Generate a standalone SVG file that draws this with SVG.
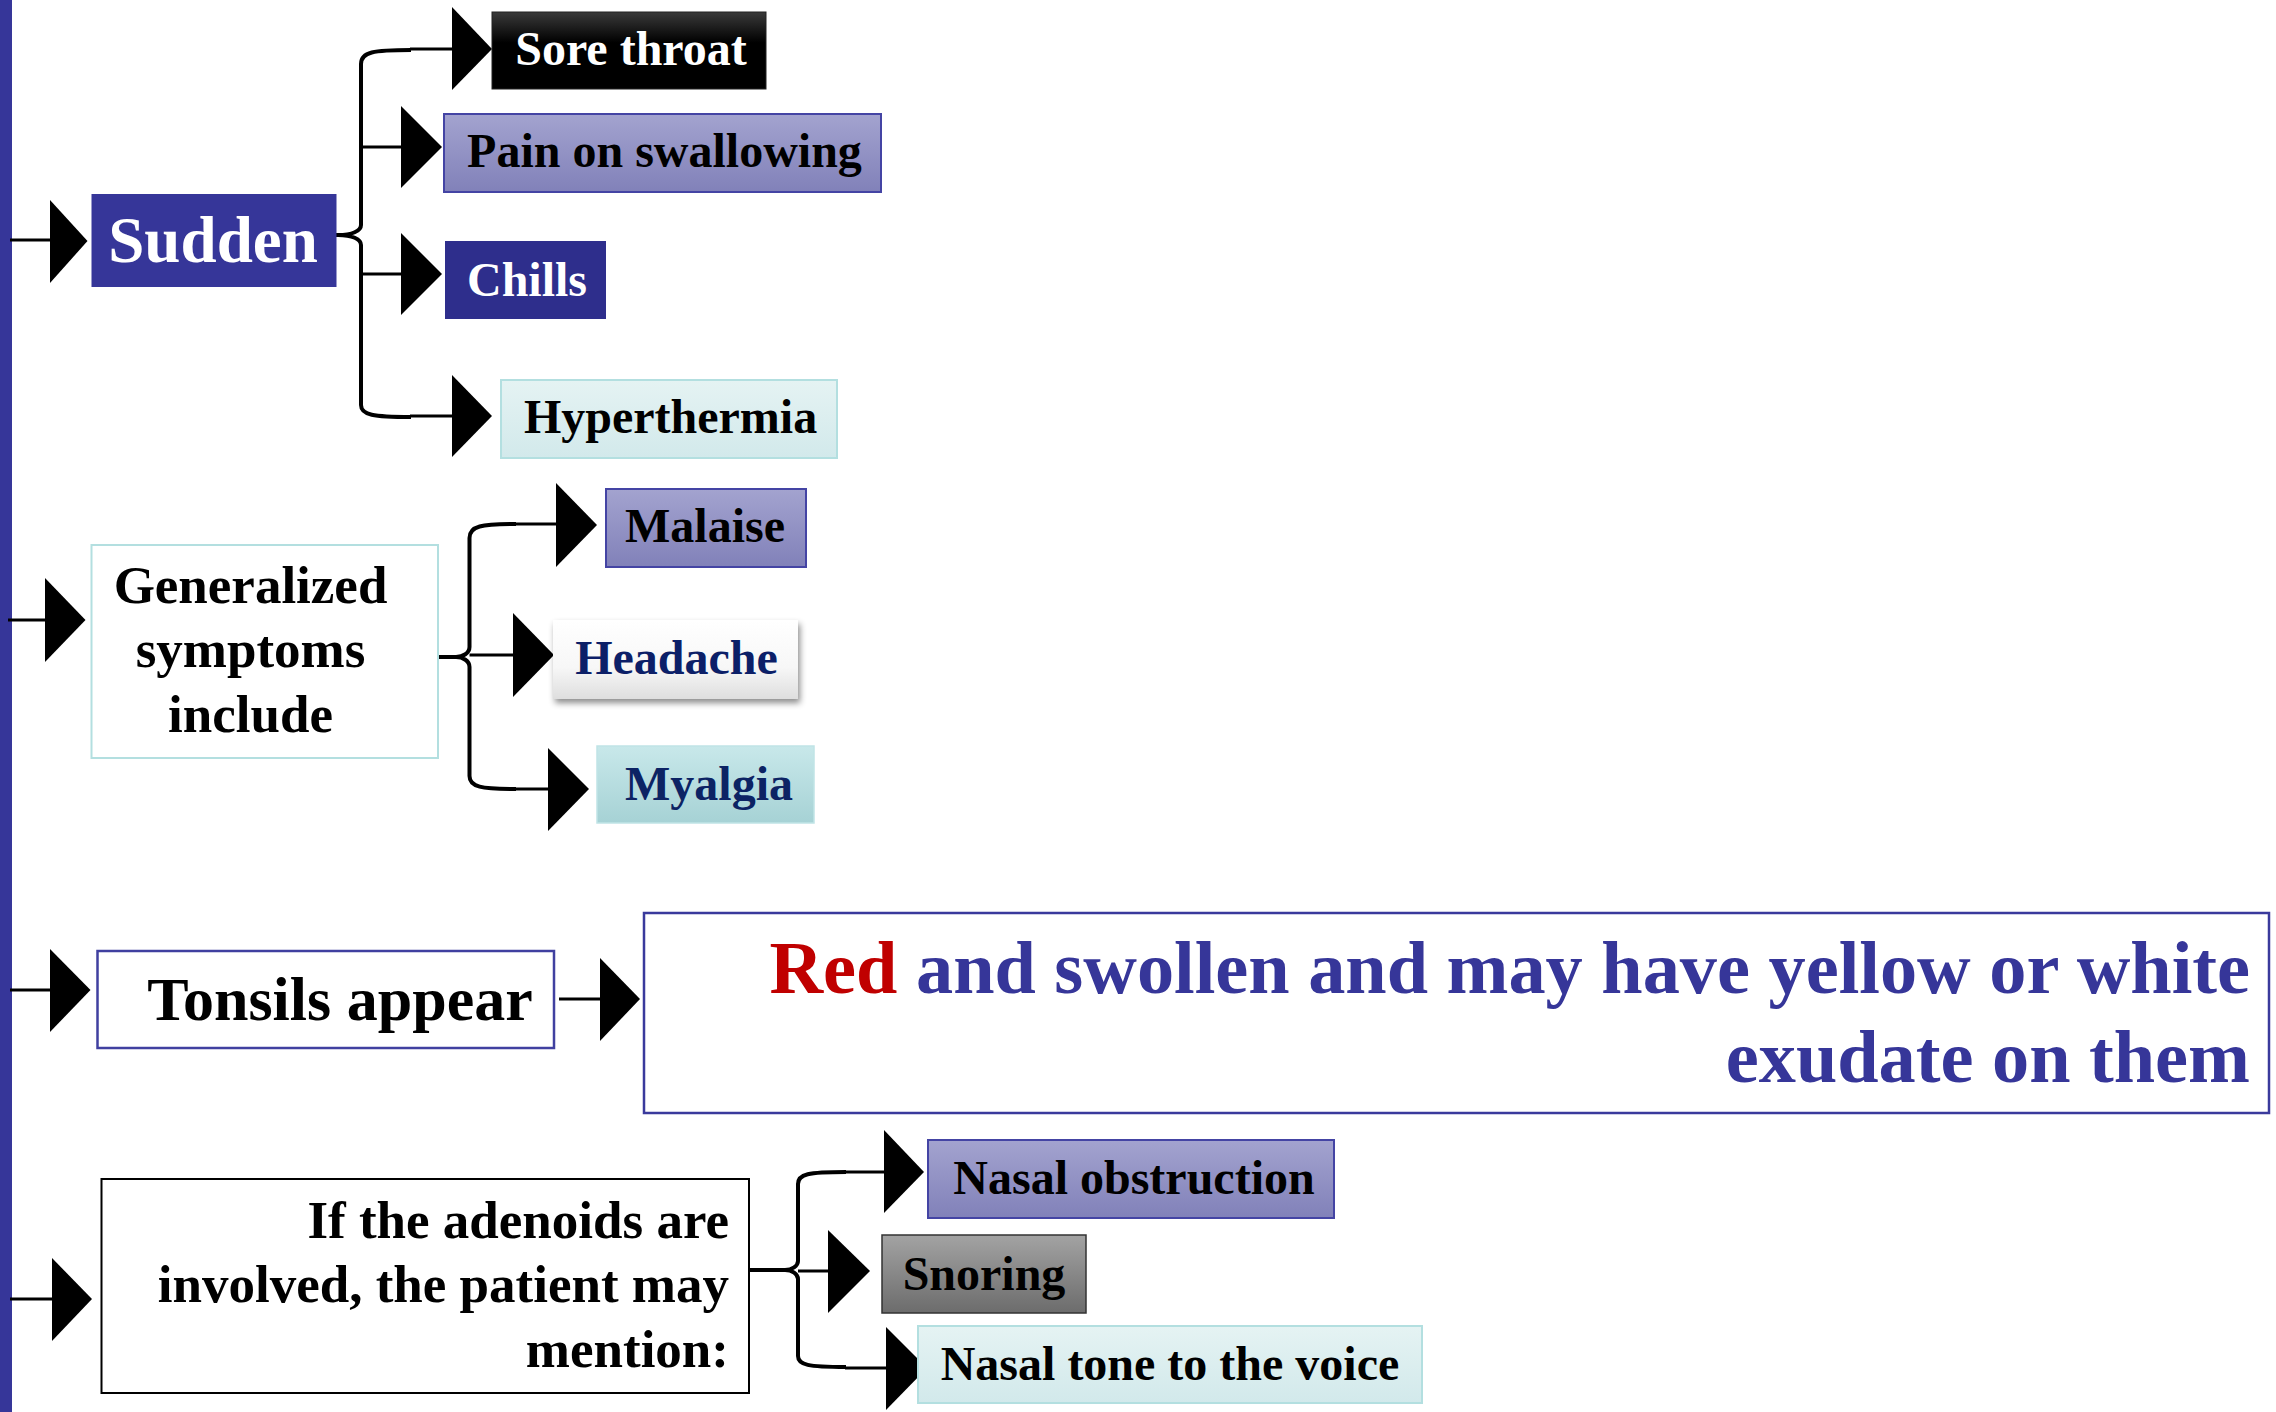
<svg xmlns="http://www.w3.org/2000/svg" width="2276" height="1412" viewBox="0 0 2276 1412">
<defs>
<linearGradient id="gPurple" x1="0" y1="0" x2="0" y2="1"><stop offset="0" stop-color="#a3a3cf"/><stop offset="1" stop-color="#8181b9"/></linearGradient>
<linearGradient id="gTeal" x1="0" y1="0" x2="0" y2="1"><stop offset="0" stop-color="#e5f3f3"/><stop offset="1" stop-color="#d2e9eb"/></linearGradient>
<linearGradient id="gTeal2" x1="0" y1="0" x2="0" y2="1"><stop offset="0" stop-color="#c8e8ea"/><stop offset="1" stop-color="#a6d2d5"/></linearGradient>
<linearGradient id="gBlack" x1="0" y1="0" x2="0" y2="1"><stop offset="0" stop-color="#3a3a3a"/><stop offset="0.4" stop-color="#000"/><stop offset="1" stop-color="#000"/></linearGradient>
<linearGradient id="gWhite" x1="0" y1="0" x2="0" y2="1"><stop offset="0" stop-color="#ffffff"/><stop offset="0.6" stop-color="#f7f7f7"/><stop offset="1" stop-color="#dedede"/></linearGradient>
<linearGradient id="gGray" x1="0" y1="0" x2="0" y2="1"><stop offset="0" stop-color="#a3a3a3"/><stop offset="1" stop-color="#6c6c6c"/></linearGradient>
<filter id="shadow" x="-10%" y="-10%" width="130%" height="140%"><feDropShadow dx="2" dy="4" stdDeviation="3" flood-color="#000" flood-opacity="0.45"/></filter>
</defs>
<style>
text{font-family:"Liberation Serif","Times New Roman",serif;font-weight:bold}
.t48{font-size:48px}
.c{text-anchor:middle}
.r{text-anchor:end}
.ln{fill:none;stroke:#000;stroke-width:3}
.br{fill:none;stroke:#000;stroke-width:4;stroke-linejoin:round}
.ah{fill:#000}
.pur{fill:url(#gPurple);stroke:#4444a4;stroke-width:2}
.teal{fill:url(#gTeal);stroke:#b3dfe0;stroke-width:2}
</style>
<rect x="0" y="0" width="12" height="1412" fill="#363699"/>

<g id="connectors">
<!-- Sudden -->
<line class="ln" x1="10" y1="240" x2="52" y2="240"/>
<polygon class="ah" points="50,200 87.5,241 50,283"/>
<path class="br" d="M312 235 L338 235 M411 50 C373 50 361 52 361 64 L361 225 C361 231 352 235 338 235 C352 235 361 239 361 245 L361 405 C361 415 373 417 411 417"/>
<line class="ln" x1="410" y1="49" x2="454" y2="49"/>
<polygon class="ah" points="452,7 492,49 452,90"/>
<line class="ln" x1="361" y1="147" x2="403" y2="147"/>
<polygon class="ah" points="401,106 442,147 401,188"/>
<line class="ln" x1="361" y1="274" x2="403" y2="274"/>
<polygon class="ah" points="401,233 442,274 401,315"/>
<line class="ln" x1="410" y1="416" x2="454" y2="416"/>
<polygon class="ah" points="452,375 492,416 452,457"/>
<!-- Generalized -->
<line class="ln" x1="8" y1="620" x2="47" y2="620"/>
<polygon class="ah" points="45,578 85.5,620 45,662"/>
<path class="br" d="M419 657 L456 657 M516 524 C481 524 469.5 526 469.5 538 L469.5 647 C469.5 653 463 657 456 657 C463 657 469.5 661 469.5 667 L469.5 776 C469.5 787 481 789 516 789"/>
<line class="ln" x1="515" y1="524" x2="558" y2="524"/>
<polygon class="ah" points="556,483 597,525 556,567"/>
<line class="ln" x1="469.5" y1="655" x2="515" y2="655"/>
<polygon class="ah" points="513,613 554,655 513,697"/>
<line class="ln" x1="515" y1="789" x2="550" y2="789"/>
<polygon class="ah" points="548,748 589,789 548,831"/>
<!-- Tonsils -->
<line class="ln" x1="10" y1="990" x2="52" y2="990"/>
<polygon class="ah" points="50,949 90.5,990 50,1032"/>
<line class="ln" x1="559" y1="999" x2="602" y2="999"/>
<polygon class="ah" points="600,958 640,999 600,1041"/>
<!-- Adenoids -->
<line class="ln" x1="10" y1="1299" x2="54" y2="1299"/>
<polygon class="ah" points="52,1258 92,1299 52,1341"/>
<path class="br" d="M749 1270 L785 1270 M846 1172 C808 1172 798 1174 798 1184 L798 1261 C798 1266 792 1270 785 1270 C792 1270 798 1274 798 1279 L798 1356 C798 1365 808 1367 846 1367"/>
<line class="ln" x1="845" y1="1172" x2="886" y2="1172"/>
<polygon class="ah" points="884,1130 924,1172 884,1213"/>
<line class="ln" x1="798" y1="1271" x2="830" y2="1271"/>
<polygon class="ah" points="828,1230 870,1271 828,1313"/>
<line class="ln" x1="845" y1="1368" x2="888" y2="1368"/>
<polygon class="ah" points="886,1327 927,1368 886,1410"/>
</g>

<g id="sudden">
<rect x="91.5" y="194" width="245" height="93" fill="#363699"/>
<text x="213" y="262" class="c" font-size="65" fill="#fff">Sudden</text>
</g>
<g id="sore-throat">
<rect x="492" y="12" width="274" height="77" fill="url(#gBlack)" stroke="#222" stroke-width="1"/>
<text x="631" y="65" class="c t48" fill="#fff">Sore throat</text>
</g>
<g id="pain-on-swallowing">
<rect x="444" y="114" width="437" height="78" class="pur"/>
<text x="664.5" y="167" class="c t48" fill="#000">Pain on swallowing</text>
</g>
<g id="chills">
<rect x="445" y="241" width="161" height="78" fill="#2e2e8c"/>
<text x="527" y="296" class="c t48" fill="#fff">Chills</text>
</g>
<g id="hyperthermia">
<rect x="501" y="380" width="336" height="78" class="teal"/>
<text x="670.5" y="433" class="c t48" fill="#000">Hyperthermia</text>
</g>

<g id="generalized">
<rect x="91.5" y="545" width="346.5" height="213" fill="#fff" stroke="#b3dfe0" stroke-width="2"/>
<text x="250.5" y="603" class="c" font-size="53" fill="#000">Generalized</text>
<text x="250.5" y="667" class="c" font-size="53" fill="#000">symptoms</text>
<text x="250.5" y="732" class="c" font-size="53" fill="#000">include</text>
</g>
<g id="malaise">
<rect x="606" y="489" width="200" height="78" class="pur"/>
<text x="705" y="542" class="c t48" fill="#000">Malaise</text>
</g>
<g id="headache">
<rect x="553" y="620" width="245" height="79" fill="url(#gWhite)" filter="url(#shadow)"/>
<text x="676.5" y="674" class="c t48" fill="#0c1f68">Headache</text>
</g>
<g id="myalgia">
<rect x="597" y="746" width="217" height="77" fill="url(#gTeal2)" stroke="#c0e4e6" stroke-width="1.5"/>
<text x="709" y="800" class="c t48" fill="#0c2364">Myalgia</text>
</g>

<g id="tonsils">
<rect x="97.5" y="951" width="456.5" height="97" fill="#fff" stroke="#4040a0" stroke-width="2.5"/>
<text x="340" y="1020" class="c" font-size="62" fill="#000">Tonsils appear</text>
</g>
<g id="red-swollen">
<rect x="644" y="913" width="1625" height="200" fill="#fff" stroke="#3a3a9c" stroke-width="2.5"/>
<text x="2250" y="993" class="r" font-size="74.3" fill="#363699"><tspan fill="#c00000">Red</tspan> and swollen and may have yellow or white</text>
<text x="2250" y="1082" class="r" font-size="74.3" fill="#363699">exudate on them</text>
</g>

<g id="adenoids">
<rect x="101.5" y="1179" width="647.5" height="214" fill="#fff" stroke="#000" stroke-width="2"/>
<text x="729" y="1238" class="r" font-size="53" fill="#000">If the adenoids are</text>
<text x="729" y="1302" class="r" font-size="53" fill="#000">involved, the patient may</text>
<text x="729" y="1367" class="r" font-size="53" fill="#000">mention:</text>
</g>
<g id="nasal-obstruction">
<rect x="928" y="1140" width="406" height="78" class="pur"/>
<text x="1134" y="1194" class="c t48" fill="#000">Nasal obstruction</text>
</g>
<g id="snoring">
<rect x="882" y="1235" width="204" height="78" fill="url(#gGray)" stroke="#333" stroke-width="1.5"/>
<text x="984" y="1290" class="c t48" fill="#000">Snoring</text>
</g>
<g id="nasal-tone">
<rect x="918" y="1326" width="504" height="77" class="teal"/>
<text x="1170" y="1380" class="c t48" fill="#000">Nasal tone to the voice</text>
</g>
</svg>
